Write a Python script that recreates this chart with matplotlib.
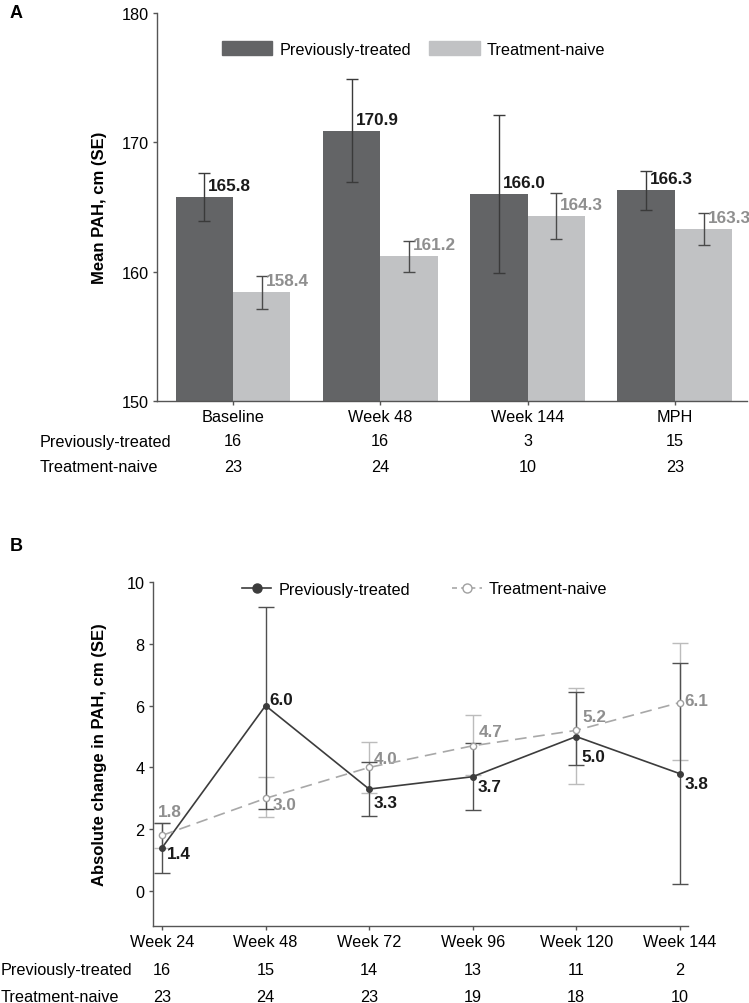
import numpy as np
import matplotlib
matplotlib.use("Agg")
import matplotlib.pyplot as plt
import matplotlib.transforms as mtransforms
from matplotlib.patches import Patch
from matplotlib.lines import Line2D

plt.rcParams['font.family'] = ['Liberation Sans', 'DejaVu Sans']
plt.rcParams['font.size'] = 11.7

# ---- panel A data: mean PAH (cm) ----
groups_a = ['Baseline', 'Week 48', 'Week 144', 'MPH']
prev_pah = [165.8, 170.9, 166.0, 166.3]
prev_pah_se = [1.85, 4.0, 6.1, 1.5]
naive_pah = [158.4, 161.2, 164.3, 163.3]
naive_pah_se = [1.25, 1.2, 1.75, 1.25]
n_prev_a = [16, 16, 3, 15]
n_naive_a = [23, 24, 10, 23]

# ---- panel B data: absolute change in PAH (cm) ----
weeks_b = ['Week 24', 'Week 48', 'Week 72', 'Week 96', 'Week 120', 'Week 144']
prev_chg = [1.4, 6.0, 3.3, 3.7, 5.0, 3.8]
prev_lo = [0.8, 3.35, 0.87, 1.08, 0.92, 3.57]
prev_hi = [0.8, 3.2, 0.87, 1.08, 1.44, 3.58]
naive_chg = [1.8, 3.0, 4.0, 4.7, 5.2, 6.1]
naive_lo = [0.4, 0.61, 0.82, 0.95, 1.74, 1.86]
naive_hi = [0.4, 0.69, 0.82, 1.0, 1.37, 1.93]
n_prev_b = [16, 15, 14, 13, 11, 2]
n_naive_b = [23, 24, 23, 19, 18, 10]

DARK = '#636466'
LIGHT = '#c1c2c4'
DARK_TXT = '#1a1a1a'
LIGHT_TXT = '#8f8f8f'
AXC = '#555555'

W, H = 749, 1004
fig = plt.figure(figsize=(W / 100, H / 100), dpi=100)


def fx(px):
    return px / W


def fy(py):
    return 1 - py / H


def style_axis(ax):
    for s in ['top', 'right']:
        ax.spines[s].set_visible(False)
    for s in ['left', 'bottom']:
        ax.spines[s].set_color(AXC)
        ax.spines[s].set_linewidth(1.0)
    ax.tick_params(length=3, width=1, color=AXC, pad=3, labelsize=11.7)


# ================= Panel A =================
axA = fig.add_axes([fx(157), fy(402), fx(747) - fx(157), fy(14) - fy(402)])
style_axis(axA)
x = np.arange(len(groups_a))
bw = 0.39
axA.bar(x - bw / 2, np.array(prev_pah) - 150, bw, bottom=150, color=DARK, zorder=2)
axA.bar(x + bw / 2, np.array(naive_pah) - 150, bw, bottom=150, color=LIGHT, zorder=2)
axA.errorbar(x - bw / 2, prev_pah, yerr=prev_pah_se, fmt='none', ecolor='#3a3a3a',
             elinewidth=1, capsize=4.5, capthick=1, zorder=3)
axA.errorbar(x + bw / 2, naive_pah, yerr=naive_pah_se, fmt='none', ecolor='#4a4a4a',
             elinewidth=1, capsize=4.5, capthick=1, zorder=3)
for xi, v in zip(x - bw / 2, prev_pah):
    axA.annotate(f'{v:.1f}', (xi, v), xytext=(4, 4), textcoords='offset pixels',
                 ha='left', va='bottom', fontweight='bold', color=DARK_TXT, fontsize=12.3)
for xi, v in zip(x + bw / 2, naive_pah):
    axA.annotate(f'{v:.1f}', (xi, v), xytext=(4, 4), textcoords='offset pixels',
                 ha='left', va='bottom', fontweight='bold', color=LIGHT_TXT, fontsize=12.3)

axA.set_ylim(150, 180)
axA.set_xlim(-0.516, 3.49)
axA.set_yticks([150, 160, 170, 180])
axA.set_xticks(x)
axA.set_xticklabels(groups_a)
axA.set_ylabel('Mean PAH, cm (SE)', fontweight='bold', fontsize=12)

axA.legend(handles=[Patch(color=DARK, label='Previously-treated'),
                    Patch(color=LIGHT, label='Treatment-naive')],
           ncol=2, frameon=False, loc='center left',
           bbox_to_anchor=(fx(222), fy(50)), bbox_transform=fig.transFigure,
           borderpad=0, borderaxespad=0, handlelength=3.1, handleheight=0.9,
           handletextpad=0.45, columnspacing=1.1, fontsize=11.7)

trA = mtransforms.blended_transform_factory(axA.transData, fig.transFigure)
fig.text(fx(40), fy(442), 'Previously-treated', ha='left', va='center', fontsize=11.7)
fig.text(fx(40), fy(467), 'Treatment-naive', ha='left', va='center', fontsize=11.7)
for xi, a, b in zip(x, n_prev_a, n_naive_a):
    axA.text(xi, fy(442), str(a), transform=trA, ha='center', va='center', fontsize=11.7)
    axA.text(xi, fy(467), str(b), transform=trA, ha='center', va='center', fontsize=11.7)

fig.text(fx(10), fy(14), 'A', ha='left', va='center', fontweight='bold', fontsize=13)

# ================= Panel B =================
axB = fig.add_axes([fx(153), fy(927), fx(688) - fx(153), fy(583) - fy(927)])
style_axis(axB)
xb = np.arange(len(weeks_b))
axB.errorbar(xb, naive_chg, yerr=[naive_lo, naive_hi], fmt='none', ecolor='#bcbcbc',
             elinewidth=1.0, capsize=5.5, capthick=1.0, zorder=2)
axB.errorbar(xb, prev_chg, yerr=[prev_lo, prev_hi], fmt='none', ecolor='#505050',
             elinewidth=1.0, capsize=5.5, capthick=1.0, zorder=3)
axB.plot(xb, prev_chg, '-o', color='#3c3c3c', lw=1.2, ms=4, zorder=4)
axB.plot(xb, naive_chg, '--o', color='#a8a8a8', lw=1.2, ms=4.5, mfc='white',
         mec='#a0a0a0', dashes=(7, 4), zorder=5)

prev_off = [(5, -6), (4, 6), (5, -13), (5, -10), (5, -20), (5, -10)]
naive_off = [(-4, 24), (7, -6), (5, 9), (6, 14), (6, 14), (5, 2)]
for xi, v, off in zip(xb, prev_chg, prev_off):
    axB.annotate(f'{v:.1f}', (xi, v), xytext=off, textcoords='offset pixels',
                 ha='left', va='center', fontweight='bold', color=DARK_TXT, fontsize=12.3)
for xi, v, off in zip(xb, naive_chg, naive_off):
    axB.annotate(f'{v:.1f}', (xi, v), xytext=off, textcoords='offset pixels',
                 ha='left', va='center', fontweight='bold', color=LIGHT_TXT, fontsize=12.3)

axB.set_ylim(-1.13, 10)
axB.set_xlim(-0.087, 5.08)
axB.set_yticks([0, 2, 4, 6, 8, 10])
axB.set_xticks(xb)
axB.set_xticklabels(weeks_b)
axB.set_ylabel('Absolute change in PAH, cm (SE)', fontweight='bold', fontsize=12)

h1 = Line2D([], [], color='#3c3c3c', lw=1.2, marker='o', ms=6.5)
h2 = Line2D([], [], color='#a8a8a8', lw=1.2, ls='--', dashes=(3, 2.5), marker='o', ms=6.5,
            mfc='white', mec='#a0a0a0')
axB.legend([h1, h2], ['Previously-treated', 'Treatment-naive'], ncol=2, frameon=False,
           loc='center left', bbox_to_anchor=(fx(242), fy(590)),
           bbox_transform=fig.transFigure, borderpad=0, borderaxespad=0,
           handlelength=1.8, handletextpad=0.45, columnspacing=2.6, fontsize=11.7)

trB = mtransforms.blended_transform_factory(axB.transData, fig.transFigure)
fig.text(fx(1), fy(971), 'Previously-treated', ha='left', va='center', fontsize=11.7)
fig.text(fx(1), fy(998), 'Treatment-naive', ha='left', va='center', fontsize=11.7)
for xi, a, b in zip(xb, n_prev_b, n_naive_b):
    axB.text(xi, fy(971), str(a), transform=trB, ha='center', va='center', fontsize=11.7)
    axB.text(xi, fy(998), str(b), transform=trB, ha='center', va='center', fontsize=11.7)

fig.text(fx(10), fy(547), 'B', ha='left', va='center', fontweight='bold', fontsize=13)

# y labels at fixed x position like the reference
axA.yaxis.set_label_coords((107 - 157) / (747 - 157), 0.5)
axB.yaxis.set_label_coords((107 - 153) / (688 - 153), 0.5)

fig.savefig('out.png', dpi=100)
